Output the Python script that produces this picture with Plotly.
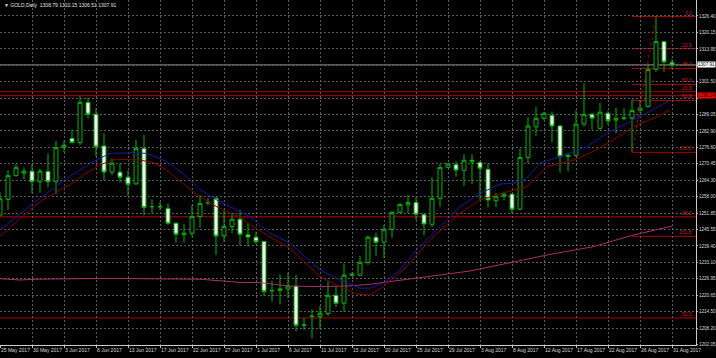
import plotly.graph_objects as go

# ---- data ----
bar_index = list(range(85))
opens = [1251.1,1257.0,1266.0,1266.9,1267.7,1263.7,1267.6,1263.7,1276.7,1280.1,
         1278.5,1293.7,1289.2,1277.2,1267.3,1267.3,1265.4,1262.9,1276.3,1254.2,
         1254.3,1253.6,1248.0,1243.6,1244.2,1250.5,1255.7,1257.4,1243.2,1246.7,
         1249.5,1243.6,1242.7,1241.1,1222.4,1222.6,1223.1,1224.2,1209.4,1212.7,
         1212.6,1213.8,1220.7,1217.7,1228.3,1228.3,1233.2,1242.7,1240.8,1245.7,
         1252.1,1254.9,1255.8,1251.2,1247.6,1257.4,1269.1,1270.1,1268.0,1271.2,
         1271.0,1268.4,1256.5,1258.2,1259.0,1253.3,1272.9,1284.5,1287.7,1288.8,
         1284.8,1273.2,1273.7,1285.5,1289.2,1283.9,1289.6,1287.0,1287.7,1287.7,
         1290.7,1292.1,1306.2,1316.7,1308.79]
highs = [1259.7,1268.1,1270.4,1269.1,1270.4,1268.5,1274.4,1279.1,1279.1,1283.3,
         1296.2,1295.6,1291.5,1282.0,1272.6,1270.7,1267.9,1279.5,1281.4,1257.0,
         1256.1,1255.5,1248.1,1247.6,1254.9,1258.7,1257.5,1258.0,1252.7,1251.7,
         1253.0,1248.0,1244.8,1241.3,1226.2,1228.7,1229.3,1228.4,1212.2,1215.4,
         1216.7,1225.9,1224.0,1232.8,1229.3,1235.7,1243.3,1244.4,1247.4,1252.6,
         1255.5,1258.7,1257.8,1251.7,1265.4,1270.4,1270.9,1271.4,1274.1,1274.1,
         1271.2,1270.7,1259.5,1259.9,1259.2,1276.3,1288.1,1292.1,1290.2,1290.2,
         1284.9,1274.2,1290.6,1300.9,1289.6,1293.6,1290.5,1291.7,1291.5,1294.9,
         1294.6,1307.9,1326.2,1316.8,1310.15]
lows = [1250.4,1253.0,1265.6,1264.6,1259.3,1259.5,1261.6,1259.0,1274.8,1278.2,
        1277.6,1287.7,1273.2,1264.3,1266.2,1263.3,1258.3,1262.5,1251.1,1251.7,
        1253.0,1247.3,1240.6,1240.6,1242.9,1246.3,1254.9,1236.0,1241.0,1244.2,
        1239.4,1239.1,1240.1,1220.4,1218.3,1217.3,1219.6,1207.1,1207.6,1204.4,
        1207.8,1212.9,1216.2,1214.5,1228.0,1228.2,1232.2,1235.7,1234.7,1242.5,
        1251.7,1251.7,1249.2,1243.5,1246.7,1254.2,1268.8,1265.6,1262.1,1262.8,
        1256.8,1254.0,1254.0,1256.8,1251.7,1253.0,1270.7,1281.1,1287.0,1278.5,
        1267.1,1267.7,1273.4,1284.5,1283.3,1283.3,1285.2,1282.0,1287.0,1274.8,
        1289.6,1291.7,1305.3,1305.3,1306.51]
closes = [1257.2,1266.0,1269.0,1267.7,1263.7,1267.7,1263.7,1276.6,1277.5,1278.5,
          1293.7,1289.2,1276.9,1267.4,1270.7,1265.4,1262.7,1276.3,1253.9,1254.3,
          1254.2,1248.0,1243.8,1244.2,1250.5,1255.5,1255.8,1243.2,1246.7,1249.5,
          1243.8,1242.8,1241.0,1222.2,1222.5,1223.1,1224.2,1209.4,1209.5,1212.8,
          1213.9,1220.7,1217.7,1228.3,1228.7,1233.2,1242.7,1240.8,1245.7,1252.1,
          1255.1,1255.9,1251.4,1247.7,1257.4,1269.1,1270.4,1268.1,1271.8,1271.8,
          1268.8,1256.8,1258.2,1259.0,1253.3,1272.9,1284.8,1287.7,1289.6,1284.8,
          1273.2,1273.7,1285.5,1289.2,1287.7,1290.0,1286.8,1287.7,1287.8,1290.6,
          1291.5,1306.2,1316.7,1309.0,1307.91]

# moving averages (bar position, price)
ma_blue_x = [0,4.16,8.34,11.66,13.75,16.66,18.34,20.84,23.34,25,27.09,28.75,31.25,33.75,36.25,
             40,42.5,45,46.25,47.91,50,52.09,54.59,56.25,57.5,60,62.5,64.16,65.84,67.5,70,
             73.34,75.84,78.34,80.84,83.75]
ma_blue_y = [1245.4,1255.5,1265.0,1271.3,1274.4,1274.7,1274.4,1271.3,1265.6,1260.8,1256.8,1254.2,
             1250.5,1244.2,1240.4,1230.3,1226.5,1223.4,1223.4,1225.3,1230.3,1237.9,1245.4,1250.5,
             1254.2,1259.3,1262.8,1263.1,1265.0,1270.7,1273.2,1276.9,1282.0,1285.8,1289.6,1294.6]
ma_red_x = [0,2.5,5,7.5,8.75,10.41,12.5,13.75,14.59,17.5,19.16,20.84,23.34,25,26.66,28.75,30,
            31.25,33.75,36.25,40,42.5,44.59,46.25,47.91,50.41,53.75,56.25,57.5,60,62.91,65.84,
            68.34,71.66,74.16,76.66,79.16,81.66,83.75]
ma_red_y = [1242.9,1249.9,1256.1,1260.6,1262.5,1266.2,1270.0,1271.6,1272.2,1271.9,1270.9,1268.1,
            1261.8,1258.0,1254.9,1251.7,1250.5,1247.3,1242.9,1238.5,1227.8,1224.0,1221.2,1220.8,
            1224.0,1230.3,1241.6,1248.6,1251.7,1256.8,1259.5,1261.8,1269.4,1271.9,1275.1,1279.5,
            1284.5,1287.7,1290.8]
ma_long_x = [0,2.5,4.59,8.34,12.5,17.5,21.66,25,27.5,30,32.5,36.25,40,43.75,46.25,48.75,52.09,
             55.41,58.75,68.75,74.13,79.13,84]
ma_long_y = [1227.0,1226.5,1226.8,1227.0,1227.1,1227.0,1226.9,1226.8,1226.2,1225.6,1225.5,1224.2,
             1224.0,1224.3,1224.9,1225.9,1227.1,1228.7,1229.9,1236.2,1239.1,1243.5,1246.9]

# horizontal line with its price box
level_line = 1296.24

# long-term fibonacci (levels that fall on the chart span the full width)
long_fib_high, long_fib_low = 1374.3, 1050.0
long_fib_levels = [23.6, 38.2, 50.0]

# short-term fibonacci retracement
fib_from_bar, fib_to_bar = 79, 82
fib_low, fib_high = 1274.8, 1326.2
fib_levels = [0.0, 23.6, 38.2, 50.0, 61.8, 100.0, 161.8]

price_ticks = [1326.40,1320.15,1313.95,1307.70,1301.50,1295.35,1289.05,1282.90,1276.60,
               1270.45,1264.30,1258.00,1251.85,1245.55,1239.40,1233.10,1226.95,1220.65,
               1214.50,1208.20,1202.05]
# labels of the two grid rows hidden under the price boxes are left blank
price_labels = ["1326.40","1320.15","1313.95","","1301.50","","1289.05",
                "1282.90","1276.60","1270.45","1264.30","1258.00","1251.85","1245.55",
                "1239.40","1233.10","1226.95","1220.65","1214.50","1208.20","1202.05"]
date_labels = ["25 May 2017","30 May 2017","3 Jun 2017","8 Jun 2017","13 Jun 2017",
               "17 Jun 2017","22 Jun 2017","27 Jun 2017","1 Jul 2017","6 Jul 2017",
               "11 Jul 2017","15 Jul 2017","20 Jul 2017","25 Jul 2017","29 Jul 2017",
               "3 Aug 2017","8 Aug 2017","12 Aug 2017","17 Aug 2017","22 Aug 2017",
               "26 Aug 2017","31 Aug 2017"]
date_tick_bars = list(range(0, 85, 4))
title_text = "GOLD,Daily  1308.79 1310.15 1306.51 1307.91"
last_price = 1307.91

# ---- figure ----
FONT = "Liberation Sans"
GREEN = "#00b800"
RED = "#b00000"
LABEL_RED = "#d02020"

fig = go.Figure()

fig.add_trace(go.Scatter(x=ma_long_x, y=ma_long_y, mode="lines",
                         line=dict(color="#a8306e", width=1), hoverinfo="skip"))
fig.add_trace(go.Scatter(x=ma_red_x, y=ma_red_y, mode="lines",
                         line=dict(color="#8a0000", width=1), hoverinfo="skip"))
fig.add_trace(go.Scatter(x=ma_blue_x, y=ma_blue_y, mode="lines",
                         line=dict(color="#1a1aa0", width=1), hoverinfo="skip"))

def level_label(price, text):
    fig.add_annotation(x=0.997, xref="paper", y=price, yref="y", text=text,
                       xanchor="right", yanchor="bottom", showarrow=False, yshift=-1,
                       font=dict(family=FONT, size=5, color=LABEL_RED))

# long fibonacci levels
lrng = long_fib_high - long_fib_low
for lv in long_fib_levels:
    p = long_fib_high - lv / 100 * lrng
    fig.add_shape(type="line", x0=0, x1=1, xref="paper", y0=p, y1=p, yref="y",
                  line=dict(color=RED, width=1), layer="below")
    level_label(p, f"{lv:.1f}")

# single horizontal level
fig.add_shape(type="line", x0=0, x1=1, xref="paper", y0=level_line, y1=level_line, yref="y",
              line=dict(color=RED, width=1), layer="below")

# current price line
fig.add_shape(type="line", x0=0, x1=1, xref="paper", y0=last_price, y1=last_price, yref="y",
              line=dict(color="#8c8c8c", width=1), layer="below")

# short fibonacci
rng = fib_high - fib_low
for lv in fib_levels:
    p = fib_high - lv / 100 * rng
    fig.add_shape(type="line", x0=fib_from_bar, x1=87, xref="x", y0=p, y1=p, yref="y",
                  line=dict(color=RED, width=1), layer="below")
    level_label(p, f"{lv:.1f}")
fig.add_trace(go.Scatter(x=[fib_from_bar, fib_to_bar], y=[fib_low, fib_high], mode="lines",
                         line=dict(color=RED, width=1, dash="dot"), hoverinfo="skip"))

fig.add_trace(go.Candlestick(
    x=bar_index, open=opens, high=highs, low=lows, close=closes,
    increasing=dict(line=dict(color=GREEN, width=1), fillcolor="#000000"),
    decreasing=dict(line=dict(color=GREEN, width=1), fillcolor="#ffffff"),
    whiskerwidth=0, hoverinfo="skip"))

fig.add_annotation(x=0.003, xref="paper", y=0.986, yref="paper", text="▼ " + title_text,
                   xanchor="left", yanchor="middle", showarrow=False,
                   font=dict(family=FONT, size=5, color="#e0e0e0"))

# price boxes on the axis
fig.add_annotation(x=1.0, xref="paper", y=last_price, yref="y", text=f"{last_price:.2f}",
                   xanchor="left", yanchor="middle", showarrow=False, bgcolor="#ffffff",
                   borderpad=0, xshift=1, font=dict(family=FONT, size=4.6, color="#000000"))
fig.add_annotation(x=1.0, xref="paper", y=level_line, yref="y", text=f"{level_line:.2f}",
                   xanchor="left", yanchor="middle", showarrow=False, bgcolor="#ff0000",
                   borderpad=0, xshift=1, font=dict(family=FONT, size=4.6, color="#000000"))

fig.update_layout(
    width=716, height=358,
    margin=dict(l=0, r=20, t=0, b=13, autoexpand=False),
    paper_bgcolor="#000000", plot_bgcolor="#000000",
    showlegend=False,
    font=dict(family=FONT, size=5, color="#d8d8d8"),
    xaxis=dict(range=[0, 87], rangeslider=dict(visible=False), automargin=False,
               tickmode="array", tickvals=date_tick_bars, ticktext=date_labels, tickangle=0,
               ticklabelposition="outside right", ticks="outside", ticklen=2,
               tickcolor="#c0c0c0", showline=True, linecolor="#c8c8c8", linewidth=1,
               showgrid=True, gridcolor="#5c5c5c", griddash="2px,2px", gridwidth=1,
               zeroline=False, tickfont=dict(size=5, color="#d8d8d8")),
    yaxis=dict(range=[1201.91, 1332.45], side="right", automargin=False,
               tickmode="array", tickvals=price_ticks, ticktext=price_labels,
               ticks="outside", ticklen=1, tickcolor="#c0c0c0",
               showline=True, linecolor="#c8c8c8", linewidth=1,
               showgrid=True, gridcolor="#5c5c5c", griddash="2px,2px", gridwidth=1,
               zeroline=False, tickfont=dict(size=4.6, color="#d8d8d8")),
)

fig.write_html("out.html", config={"displayModeBar": False},
               post_script="document.body.style.margin='0';document.body.style.overflow='hidden';")
